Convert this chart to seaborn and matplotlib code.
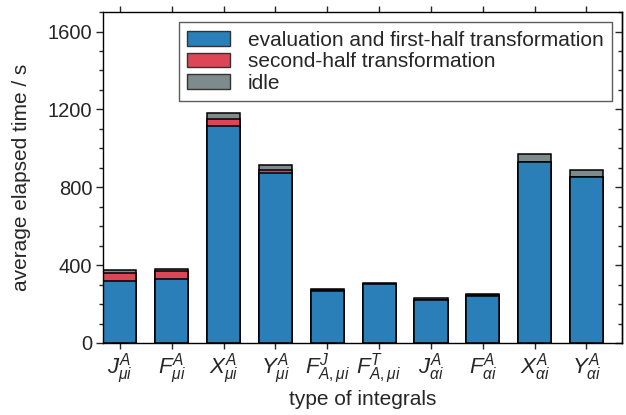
import matplotlib
matplotlib.use("Agg")
import matplotlib.pyplot as plt
from matplotlib.patches import Patch
from matplotlib.ticker import MultipleLocator
import seaborn as sns
import numpy as np

categories = [r"$J^{A}_{\mu i}$", r"$F^{A}_{\mu i}$", r"$X^{A}_{\mu i}$", r"$Y^{A}_{\mu i}$",
              r"$F^{J}_{A,\mu i}$", r"$F^{T}_{A,\mu i}$", r"$J^{A}_{\alpha i}$", r"$F^{A}_{\alpha i}$",
              r"$X^{A}_{\alpha i}$", r"$Y^{A}_{\alpha i}$"]
evaluation = [318, 327, 1114, 873, 267, 302, 220, 241, 930, 851]
second_half = [42, 42, 38, 17, 5, 3, 3, 3, 0, 0]
idle = [14, 12, 31, 23, 6, 4, 6, 7, 39, 39]
series_names = ["evaluation and first-half transformation", "second-half transformation", "idle"]
colors = ["#2a7fb8", "#dc4656", "#7e8b8c"]

sns.set_theme(style="ticks")
plt.rcParams['font.family'] = ['Liberation Sans', 'DejaVu Sans']
plt.rcParams['mathtext.fontset'] = 'custom'
plt.rcParams['mathtext.rm'] = 'Liberation Sans'
plt.rcParams['mathtext.it'] = 'Liberation Sans:italic'
plt.rcParams['mathtext.bf'] = 'Liberation Sans:bold'

ev = np.array(evaluation, dtype=float)
sh = np.array(second_half, dtype=float)
idl = np.array(idle, dtype=float)
levels = [ev + sh + idl, ev + sh, ev]
level_colors = [colors[2], colors[1], colors[0]]

fig = plt.figure(figsize=(6.26, 4.15), dpi=100)
ax = fig.add_axes([0.165, 0.1735, 0.829, 0.7975])

for vals, c in zip(levels, level_colors):
    sns.barplot(x=categories, y=vals, order=categories, color=c, saturation=1,
                width=0.64, edgecolor="black", linewidth=1.1, ax=ax)

ax.set_xlim(-0.32, 9.69)
ax.set_ylim(0, 1700)
ax.yaxis.set_major_locator(MultipleLocator(400))
ax.yaxis.set_minor_locator(MultipleLocator(100))
ax.tick_params(axis='x', which='both', top=True, bottom=True, direction='out', length=4,
               width=1, labelsize=16, pad=2)
ax.tick_params(axis='y', which='major', left=True, right=False, direction='out', length=5,
               width=1, labelsize=14.5, pad=3)
ax.tick_params(axis='y', which='minor', left=True, right=False, direction='out', length=3, width=1)
sec = ax.secondary_yaxis('right')
sec.yaxis.set_major_locator(MultipleLocator(400))
sec.yaxis.set_minor_locator(MultipleLocator(100))
sec.tick_params(axis='y', which='major', direction='in', length=5, width=1, labelright=False)
sec.tick_params(axis='y', which='minor', direction='in', length=3, width=1)
for s in ax.spines.values():
    s.set_linewidth(1.0)
    s.set_color('black')
sec.spines['right'].set_linewidth(1.0)

ax.set_xlabel("type of integrals", fontsize=15, labelpad=3)
ax.set_ylabel("average elapsed time / s", fontsize=15, labelpad=12)

handles = [Patch(facecolor=c, edgecolor='#333333', linewidth=1.0) for c in colors]
leg = ax.legend(handles, series_names, loc='upper right', fontsize=15, frameon=True,
                fancybox=False, edgecolor='#333333', handlelength=2.05, handleheight=0.7,
                borderaxespad=0.5, labelspacing=0.12, handletextpad=0.85, borderpad=0.4)
leg.get_frame().set_linewidth(1.0)

fig.savefig("out.png", dpi=100)
